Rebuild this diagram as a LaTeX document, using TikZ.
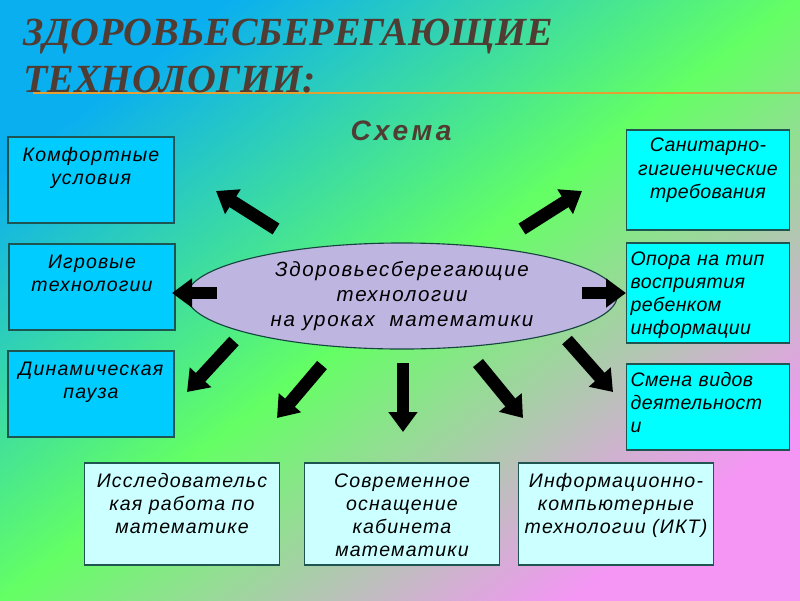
\documentclass[tikz,border=0pt]{standalone}
\usepackage{fontspec}
\setmainfont{Liberation Sans}
\newfontfamily\titlefont{Liberation Serif}
\newfontfamily\boxfont[LetterSpace=6]{Liberation Sans}
\newfontfamily\sidefont[LetterSpace=2]{Liberation Sans}
\newfontfamily\ovalfont[LetterSpace=8]{Liberation Sans}
\newfontfamily\headfont[LetterSpace=12]{Liberation Sans}
\usetikzlibrary{shapes.geometric, arrows.meta}

\definecolor{titlecol}{RGB}{80,60,50}
\definecolor{rulecol}{RGB}{230,160,50}
\definecolor{edgecol}{RGB}{30,85,80}
\definecolor{lboxcol}{RGB}{0,204,255}
\definecolor{rboxcol}{RGB}{0,255,255}
\definecolor{bboxcol}{RGB}{204,255,255}
\definecolor{ovalcol}{RGB}{190,182,225}
\definecolor{bgtop}{RGB}{10,175,240}
\definecolor{bgmid}{RGB}{100,255,100}
\definecolor{bgbot}{RGB}{245,150,245}

\tikzset{
  box/.style={draw=edgecol, line width=0.8pt, inner xsep=3pt, inner ysep=0pt,
    align=center, font=\boxfont\itshape\fontsize{13.9}{16.4}\selectfont},
  lbox/.style={box, fill=lboxcol, text width=3.94cm, text height=0.6cm, text depth=1.55cm},
  rbox/.style={box, fill=rboxcol, text width=3.87cm, text height=0.55cm, text depth=1.95cm,
    font=\sidefont\itshape\fontsize{13.9}{16.4}\selectfont},
  bbox/.style={box, fill=bboxcol, text width=4.66cm, text height=0.6cm, text depth=1.95cm},
  blockarrow/.style={black, line width=0.32cm, -{Triangle[width=0.7cm,length=0.5cm]}},
}

\begin{document}
\begin{tikzpicture}[x=0.025cm, y=-0.025cm]
\useasboundingbox (0,0) rectangle (800,600);
\shade[top color=bgtop, bottom color=bgbot, middle color=bgmid, shading angle=37] (0,0) rectangle (800,600);

% Titel
\coordinate (r0) at (33,93);
\coordinate (r1) at (800,93);
\draw[rulecol, line width=1.5pt] (r0) -- (r1);
\node[anchor=base west, inner sep=0pt, text=titlecol, font=\titlefont\bfseries\itshape\fontsize{28.4}{33.4}\selectfont] (t1) at (23,45) {ЗДОРОВЬЕСБЕРЕГАЮЩИЕ};
\node[anchor=base west, inner sep=0pt, text=titlecol, font=\titlefont\bfseries\itshape\fontsize{28.4}{33.4}\selectfont] (t2) at (23,92) {ТЕХНОЛОГИИ:};
\node[anchor=base, inner sep=0pt, text=titlecol, font=\headfont\bfseries\itshape\fontsize{20}{24}\selectfont] (S) at (401,140) {Схема};

% Oval
\node[ellipse, draw=edgecol!80!black, fill=ovalcol, line width=0.8pt, minimum width=10.75cm, minimum height=2.65cm, inner sep=0pt,
  align=center, font=\ovalfont\itshape\fontsize{14.6}{17.8}\selectfont] (E) at (402,296)
  {Здоровьесберегающие\\технологии\\на уроках~ математики};

% Kaesten links
\node[lbox] (K) at (91,180) {Комфортные\\условия};
\node[lbox] (I) at (92,287) {Игровые\\технологии};
\node[lbox] (D) at (91,394) {Динамическая\\пауза};
% Kaesten rechts
\node[rbox] (SG) at (708,180) {Санитарно-\\гигиенические\\требования};
\node[rbox, align=left] (O) at (708,293) {Опора на тип\\восприятия\\ребенком\\информации};
\node[rbox, align=left, text depth=1.6cm] (SV) at (708,407) {Смена видов\\деятельност\\и};
% Kaesten unten
\node[bbox] (IR) at (182,514) {Исследовательс\\кая работа по\\математике};
\node[bbox] (SO) at (402,514) {Современное\\оснащение\\кабинета\\математики};
\node[bbox] (IK) at (616,514) {Информационно-\\компьютерные\\технологии (ИКТ)};

% Pfeile
\coordinate (a1) at (276,229); \coordinate (b1) at (216,191);
\coordinate (a2) at (522,229); \coordinate (b2) at (582,191);
\coordinate (a3) at (217,293); \coordinate (b3) at (172,293);
\coordinate (a4) at (582,293); \coordinate (b4) at (626,293);
\coordinate (a5) at (234,341); \coordinate (b5) at (187,392);
\coordinate (a6) at (322,365); \coordinate (b6) at (277,418);
\coordinate (a7) at (403,363); \coordinate (b7) at (403,432);
\coordinate (a8) at (478,363); \coordinate (b8) at (523,418);
\coordinate (a9) at (567,340); \coordinate (b9) at (613,392);
\foreach \i in {1,...,9}
  \draw[blockarrow] (a\i) -- (b\i);
\end{tikzpicture}
\end{document}
